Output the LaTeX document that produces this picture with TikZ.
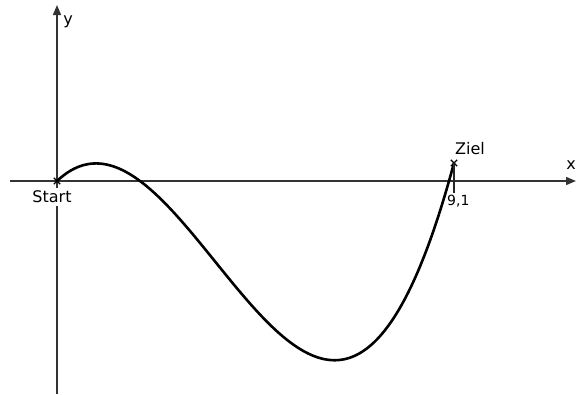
\documentclass[tikz,border=0pt]{standalone}
\usepackage{fontspec}
\setmainfont{DejaVu Sans}
\usetikzlibrary{arrows.meta,shapes.misc}
\begin{document}
\begin{tikzpicture}[x=1pt,y=-1pt,
  axis/.style={line width=1.6pt,draw=black!80,-{Triangle[length=10pt,width=8pt]}},
  curve/.style={line width=2.6pt,black},
  xmk/.style={cross out,draw=black,line width=1.3pt,minimum size=5pt,inner sep=0pt},
  lbl/.style={font=\fontsize{16pt}{18pt}\selectfont,text=black,inner sep=1pt},
  small/.style={font=\fontsize{14pt}{16pt}\selectfont,text=black,inner sep=1pt}]
\useasboundingbox (0,0) rectangle (576,394);
\coordinate (xs) at (10,181);
\coordinate (xe) at (576,181);
\coordinate (ys) at (57,394);
\coordinate (ye) at (57,5);
\draw[axis] (xs) -- (xe);
\draw[axis] (ys) -- (ye);
\node[lbl] (ylab) at (68,22) {y};
\node[lbl] (xlab) at (571,165) {x};
\node[lbl,fill=white,inner sep=3pt] (start) at (52,197) {Start};
\draw[curve] plot[domain=57:454,samples=200,smooth]
  (\x,{181-29*((\x-57)/100)*((\x-140)/100)*((\x-449)/100)});
\node[xmk] (s) at (57,181) {};
\node[xmk] (z) at (454,163) {};
\coordinate (tick) at (454,193);
\draw[line width=1.6pt,black!85] (z.center) -- (tick);
\node[lbl] (ziel) at (470,149) {Ziel};
\node[small,anchor=north west] (nl) at (446,194) {9,1};
\end{tikzpicture}
\end{document}
